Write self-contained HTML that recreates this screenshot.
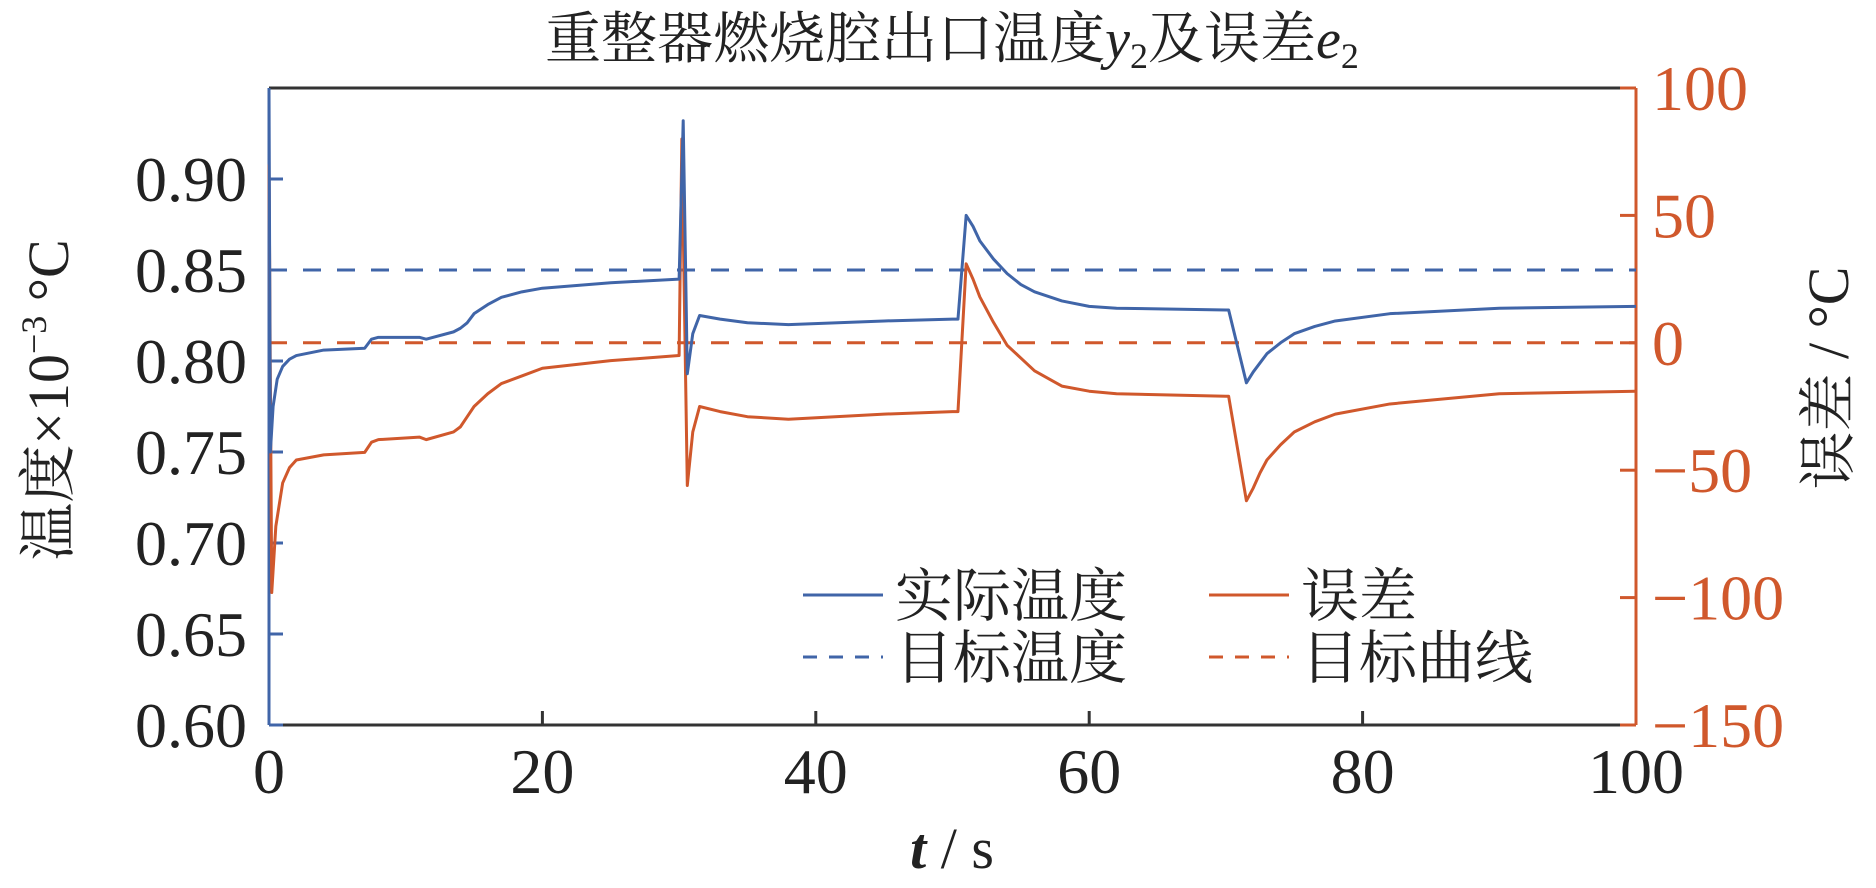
<!DOCTYPE html>
<html><head><meta charset="utf-8"><style>
body{margin:0;background:#fff;}
svg text{font-family:"Liberation Serif","Noto Serif CJK SC",serif;}
</style></head><body>
<svg width="1876" height="883" viewBox="0 0 1876 883" xmlns="http://www.w3.org/2000/svg">
<g id="plot"></g>
</svg>
<script>
const tTemp=[0,0.1,0.3,0.6,1,1.5,2,4,7,7.5,8,11,11.5,13.5,14,14.5,15,16,17,18.5,20,25,30,30.3,30.6,31,31.5,33,35,38,45,50,50.4,51,51.5,52,53,54,55,56,58,60,62,70,70.2,71.5,72,72.5,73,74,75,76.5,78,82,90,100];
const tempValues=[0.95,0.75,0.775,0.79,0.797,0.801,0.803,0.806,0.807,0.812,0.813,0.813,0.812,0.816,0.818,0.821,0.826,0.831,0.835,0.838,0.840,0.843,0.845,0.932,0.793,0.815,0.825,0.823,0.821,0.820,0.822,0.823,0.823,0.880,0.874,0.866,0.856,0.848,0.842,0.838,0.833,0.830,0.829,0.828,0.828,0.788,0.794,0.799,0.804,0.810,0.815,0.819,0.822,0.826,0.829,0.830];
const tErr=[0,0.2,0.5,1,1.5,2,4,7,7.5,8,11,11.5,13.5,14,14.5,15,16,17,18.5,20,25,30,30.2,30.6,31,31.5,33,35,38,45,50,50.4,51,51.5,52,53,54,55,56,58,60,62,70,70.2,71.5,72,72.5,73,74,75,76.5,78,82,90,100];
const errValues=[70,-98,-72,-55,-49,-46,-44,-43,-39,-38,-37,-38,-35,-33,-29,-25,-20,-16,-13,-10,-7,-5,80,-56,-35,-25,-27,-29,-30,-28,-27,-27,31,25,18,8,-1,-6,-11,-17,-19,-20,-21,-21,-62,-57,-51,-46,-40,-35,-31,-28,-24,-20,-19];
const targetTemp=[0.85];
const targetErr=[0];
const xTicks=[0,20,40,60,80,100];
const yLeftTicks=[0.60,0.65,0.70,0.75,0.80,0.85,0.90];
const yRightTicks=[-150,-100,-50,0,50,100];

const L=269,R=1636,T=88,B=725;
const BLUE='#4065a8',ORANGE='#d0582c';
const xs=t=>L+(t-0)/100*(R-L);
const yl=v=>B-(v-0.60)/0.35*(B-T);
const yr=v=>B-(v+150)/250*(B-T);
const g=document.getElementById('plot');
const NS='http://www.w3.org/2000/svg';
function mk(tag,attrs,parent){const e=document.createElementNS(NS,tag);for(const k in attrs)e.setAttribute(k,attrs[k]);(parent||g).appendChild(e);return e;}

let e;
e=mk('line',{x1:L,y1:T,x2:R,y2:T,stroke:'#333','stroke-width':3});


e=mk('line',{x1:L,y1:B,x2:R,y2:B,stroke:'#333','stroke-width':3});


e=mk('line',{x1:L,y1:T,x2:L,y2:B,stroke:BLUE,'stroke-width':3});


e=mk('line',{x1:R,y1:T,x2:R,y2:B,stroke:ORANGE,'stroke-width':3});



xTicks.forEach(t=>{
  if(t>0&&t<100){e=mk('line',{x1:xs(t),y1:B,x2:xs(t),y2:B-14,stroke:'#333','stroke-width':3});
  
  }
  e=mk('text',{x:xs(t),y:B+68,'font-size':64,'text-anchor':'middle',fill:'#222'});
  e.textContent=t;
  
  
});
yLeftTicks.forEach(v=>{
  e=mk('line',{x1:L,y1:yl(v),x2:L+14,y2:yl(v),stroke:BLUE,'stroke-width':3});
  
  
  e=mk('text',{x:L-22,y:yl(v)+22,'font-size':64,'text-anchor':'end',fill:'#222'});
  e.textContent=v.toFixed(2);
  
  
});
yRightTicks.forEach(v=>{
  e=mk('line',{x1:R-16,y1:yr(v),x2:R,y2:yr(v),stroke:ORANGE,'stroke-width':3});
  
  
  e=mk('text',{x:R+16,y:yr(v)+22,'font-size':64,'text-anchor':'start',fill:ORANGE});
  e.textContent=v<0?'\u2212'+(-v):String(v);
  
  
});

e=mk('line',{x1:L,y1:yl(targetTemp[0]),x2:R,y2:yl(targetTemp[0]),stroke:BLUE,'stroke-width':3,'stroke-dasharray':'18 16'});


e=mk('line',{x1:L,y1:yr(targetErr[0]),x2:R,y2:yr(targetErr[0]),stroke:ORANGE,'stroke-width':3,'stroke-dasharray':'18 16'});



e=mk('polyline',{points:tErr.map((t,i)=>xs(t)+','+yr(errValues[i])).join(' '),fill:'none',stroke:ORANGE,'stroke-width':3,'stroke-linejoin':'round'});


e=mk('polyline',{points:tTemp.map((t,i)=>xs(t)+','+yl(tempValues[i])).join(' '),fill:'none',stroke:BLUE,'stroke-width':3,'stroke-linejoin':'round'});



const leg=[['实际温度',BLUE,null,803,595],['误差',ORANGE,null,1209,595],['目标温度',BLUE,'14 12',803,657],['目标曲线',ORANGE,'14 12',1209,657]];
leg.forEach(l=>{
  e=mk('line',{x1:l[3],y1:l[4],x2:l[3]+80,y2:l[4],stroke:l[1],'stroke-width':3});
  if(l[2])e.setAttribute('stroke-dasharray',l[2]);
  
  
  e=mk('text',{x:l[3]+92,y:l[4]+21,'font-size':58,fill:'#222'});
  e.textContent=l[0];
  
  
});

e=mk('text',{x:952,y:58,'font-size':56,'text-anchor':'middle',fill:'#222'});
e.innerHTML='重整器燃烧腔出口温度<tspan font-style="italic">y</tspan><tspan font-size="36" dy="10">2</tspan><tspan dy="-10">及误差</tspan><tspan font-style="italic">e</tspan><tspan font-size="36" dy="10">2</tspan>';


e=mk('text',{x:952,y:868,'font-size':58,'text-anchor':'middle',fill:'#222'});
e.innerHTML='<tspan font-style="italic" font-weight="bold">t</tspan> / s';


e=mk('text',{x:0,y:0,'font-size':58,'text-anchor':'middle',fill:'#222',transform:'translate(68,400) rotate(-90)'});
e.innerHTML='温度×10<tspan font-size="36" dy="-22">−3</tspan><tspan dy="22"> °C</tspan>';


e=mk('text',{x:0,y:0,'font-size':58,'text-anchor':'middle',fill:'#222',transform:'translate(1848,378) rotate(-90)'});
e.textContent='误差 / °C';


</script>
</body></html>
